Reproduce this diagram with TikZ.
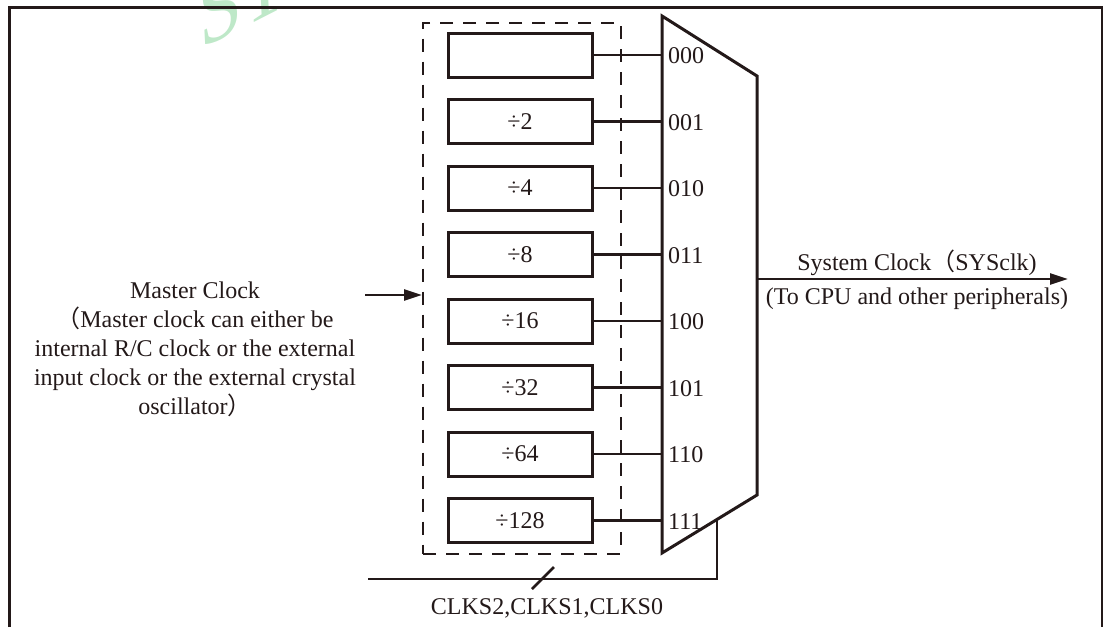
\documentclass[tikz,border=0pt]{standalone}
\usepackage{fontspec}
\setmainfont{Liberation Serif}
\newfontfamily\cjk{Noto Sans CJK SC}
\usetikzlibrary{arrows.meta}
\definecolor{ink}{RGB}{35,25,25}
\definecolor{wm}{RGB}{190,232,200}
\tikzset{
  txt/.style={font=\fontsize{24}{29}\selectfont, text=ink, inner sep=0pt},
  divbox/.style={draw=ink, line width=3pt, minimum width=144pt, minimum height=44pt, inner sep=0pt, font=\fontsize{24}{26}\selectfont, text=ink},
  wire/.style={draw=ink, line width=2.6pt},
  heavy/.style={draw=ink, line width=3pt},
  dashbox/.style={draw=ink, line width=2pt, dash pattern=on 13pt off 10pt},
  arr/.style={wire, -{Triangle[length=18pt,width=11pt]}},
}
\begin{document}
\begin{tikzpicture}[x=1pt,y=-1pt]
\useasboundingbox (0,0) rectangle (1103,627);
% watermark
\node[anchor=base west, rotate=27, xslant=0.45, text=wm, inner sep=0pt, font=\fontsize{86}{86}\selectfont] (wmk) at (200,50) {ST};
% frame
\draw[heavy] (9,627) -- (9,7) -- (1103,7);
\draw[draw=ink, line width=1.6pt] (1102,7) -- (1102,627);
% dashed enclosure
\node[dashbox, minimum width=198pt, minimum height=531pt, inner sep=0pt] (grp) at (522,288) {};
% divider boxes
\foreach \i/\t in {1/{},2/{÷2},3/{÷4},4/{÷8},5/{÷16},6/{÷32},7/{÷64},8/{÷128}} {
  \node[divbox] (b\i) at (520,{55+66.5*(\i-1)}) {\t};
}
% mux
\coordinate (mTL) at (662,16);
\coordinate (mTR) at (757,76);
\coordinate (mBR) at (757,495);
\coordinate (mBL) at (662,553);
\draw[heavy, line join=miter] (mTL) -- (mTR) -- (mBR) -- (mBL) -- cycle;
\foreach \i/\c in {1/000,2/001,3/010,4/011,5/100,6/101,7/110,8/111} {
  \coordinate (m\i) at (662,{55+66.5*(\i-1)});
  \draw[wire] (b\i.east) -- (m\i);
  \node[txt, anchor=west] (l\i) at (668,{56+66.5*(\i-1)}) {\c};
}
% output
\coordinate (mout) at (757,279);
\coordinate (oend) at (1068,279);
\draw[arr] (mout) -- (oend);
\node[txt] (sys) at (917,263) {System Clock{\cjk （}SYSclk)};
\node[txt] (cpu) at (917,299) {(To CPU and other peripherals)};
% input
\node[txt, align=center] (mc) at (195,349) {Master Clock\\{\cjk （}Master clock can either be\\internal R/C clock or the external\\input clock or the external crystal\\oscillator{\cjk ）}};
\coordinate (inS) at (365,295);
\coordinate (inE) at (422,295);
\draw[arr] (inS) -- (inE);
% select line
\coordinate (selS) at (368,579);
\coordinate (selC) at (717,579);
\coordinate (selE) at (717,520);
\draw[wire] (selS) -- (selC) -- (selE);
\coordinate (slA) at (532,589);
\coordinate (slB) at (554,567);
\draw[wire] (slA) -- (slB);
\node[txt] (clks) at (547,608) {CLKS2,CLKS1,CLKS0};
\end{tikzpicture}
\end{document}
